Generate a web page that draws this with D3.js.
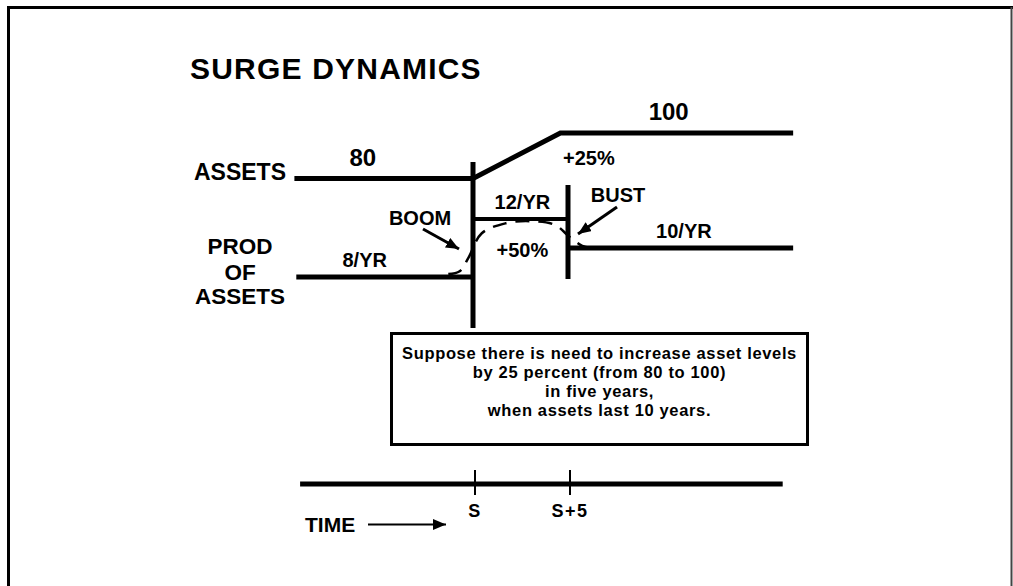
<!DOCTYPE html>
<html>
<head>
<meta charset="utf-8">
<script src="https://cdn.jsdelivr.net/npm/d3@7"></script>
<style>
  html, body { margin: 0; padding: 0; background: #fff; }
  svg { display: block; }
  text { font-family: "Liberation Sans", Arial, Helvetica, sans-serif; font-weight: bold; fill: #000; }
</style>
</head>
<body>
<div id="chart"></div>
<script>
// time is in years counted from S
var timeTicks = [0, 5];
var timeTickLabels = ["S", "S+5"];
var timeAxisExtent = [-9.1, 16.3];

// asset level path: 80 before S, ramps up to 100
var assetTimes = [-9.4, 0, 4.6, 16.85];
var assetValues = [80, 80, 100, 100];
var assetLabels = ["80", "100"];
var assetLabelTimes = [-5.8, 10.3];

// production of assets, step segments
var prodStart = [-9.3, 0, 5];
var prodEnd = [0, 5, 16.85];
var prodRate = [8, 12, 10];
var prodLabels = ["8/YR", "12/YR", "10/YR"];
var prodLabelTimes = [-5.7, 2.6, 11.1];

// smoothed boom/bust production (dashed)
var smoothTimes = [-1.3, -0.7, -0.25, 0.45, 1.7, 3.0, 4.3, 5.1, 5.75, 6.4];
var smoothValues = [8.2, 8.4, 9.3, 11.0, 11.7, 11.85, 11.6, 10.75, 10.15, 9.95];

var boxLines = [
  "Suppose there is need to increase asset levels",
  "by 25 percent (from 80 to 100)",
  "in five years,",
  "when assets last 10 years."
];

function drawChart() {
  var width = 1013,
      height = 586;

  var svg = d3.select("#chart")
    .append("svg")
      .attr("width", width)
      .attr("height", height);

  var defs = svg.append("defs");
  defs.append("marker")
      .attr("id", "head")
      .attr("markerUnits", "userSpaceOnUse")
      .attr("viewBox", "0 0 12 10")
      .attr("refX", 12)
      .attr("refY", 5)
      .attr("markerWidth", 13)
      .attr("markerHeight", 11)
      .attr("orient", "auto")
    .append("path")
      .attr("d", "M0,0L12,5L0,10Z")
      .attr("fill", "#000");

  // frame (no bottom edge)
  svg.append("path")
      .attr("d", "M8.5," + height + "V7.5H" + width)
      .attr("fill", "none")
      .attr("stroke", "#000")
      .attr("stroke-width", 3);
  svg.append("line")
      .attr("x1", 1011.5).attr("x2", 1011.5)
      .attr("y1", 7).attr("y2", height)
      .attr("stroke", "#444")
      .attr("stroke-width", 2);

  var x = d3.scaleLinear().domain([0, 5]).range([473, 568]);
  var yAsset = d3.scaleLinear().domain([80, 100]).range([178.5, 133]);
  var yProd = d3.scaleLinear().domain([8, 12]).range([277, 219]);

  svg.append("text")
      .attr("x", 190)
      .attr("y", 79)
      .attr("font-size", 30)
      .attr("letter-spacing", 1.2)
      .text("SURGE DYNAMICS");

  // asset level
  var assetLine = d3.line()
      .x(function(d) { return x(d[0]); })
      .y(function(d) { return yAsset(d[1]); });
  svg.append("path")
      .datum(d3.zip(assetTimes, assetValues))
      .attr("d", assetLine)
      .attr("fill", "none")
      .attr("stroke", "#000")
      .attr("stroke-width", 5);

  svg.selectAll(".asset-label")
    .data(assetLabels)
    .enter()
    .append("text")
      .attr("class", "asset-label")
      .attr("x", function(d, i) { return x(assetLabelTimes[i]); })
      .attr("y", function(d) { return yAsset(+d) - 13; })
      .attr("text-anchor", "middle")
      .attr("font-size", 24)
      .text(function(d) { return d; });

  svg.append("text")
      .attr("x", x(6.1))
      .attr("y", 165)
      .attr("text-anchor", "middle")
      .attr("font-size", 20)
      .text("+25%");

  svg.append("text")
      .attr("x", 286)
      .attr("y", 180)
      .attr("text-anchor", "end")
      .attr("font-size", 23)
      .text("ASSETS");

  // production steps
  svg.selectAll(".prod")
    .data(prodRate)
    .enter()
    .append("line")
      .attr("class", "prod")
      .attr("x1", function(d, i) { return x(prodStart[i]); })
      .attr("x2", function(d, i) { return x(prodEnd[i]); })
      .attr("y1", function(d) { return yProd(d); })
      .attr("y2", function(d) { return yProd(d); })
      .attr("stroke", "#000")
      .attr("stroke-width", function(d, i) { return i === 1 ? 4 : 5; });

  svg.selectAll(".prod-label")
    .data(prodLabels)
    .enter()
    .append("text")
      .attr("class", "prod-label")
      .attr("x", function(d, i) { return x(prodLabelTimes[i]); })
      .attr("y", function(d, i) { return yProd(prodRate[i]) - 10; })
      .attr("text-anchor", "middle")
      .attr("font-size", 20)
      .text(function(d) { return d; });

  var prodName = ["PROD", "OF", "ASSETS"];
  svg.selectAll(".prod-name")
    .data(prodName)
    .enter()
    .append("text")
      .attr("class", "prod-name")
      .attr("x", 240)
      .attr("y", function(d, i) { return [254, 280, 304][i]; })
      .attr("text-anchor", "middle")
      .attr("font-size", 22.5)
      .text(function(d) { return d; });

  // smoothed production (dashed)
  var smoothLine = d3.line()
      .curve(d3.curveCatmullRom)
      .x(function(d) { return x(d[0]); })
      .y(function(d) { return yProd(d[1]); });
  svg.append("path")
      .datum(d3.zip(smoothTimes, smoothValues))
      .attr("d", smoothLine)
      .attr("fill", "none")
      .attr("stroke", "#000")
      .attr("stroke-width", 2.5)
      .attr("stroke-dasharray", "14,9");

  svg.append("text")
      .attr("x", x(2.6))
      .attr("y", 257)
      .attr("text-anchor", "middle")
      .attr("font-size", 20)
      .text("+50%");

  // vertical markers at S and S+5
  svg.append("line")
      .attr("x1", x(0)).attr("x2", x(0))
      .attr("y1", 162).attr("y2", 328)
      .attr("stroke", "#000").attr("stroke-width", 5);
  svg.append("line")
      .attr("x1", x(5)).attr("x2", x(5))
      .attr("y1", 185).attr("y2", 279)
      .attr("stroke", "#000").attr("stroke-width", 5);

  // BOOM / BUST callouts
  svg.append("text")
      .attr("x", 420).attr("y", 225)
      .attr("text-anchor", "middle")
      .attr("font-size", 20)
      .text("BOOM");
  svg.append("line")
      .attr("x1", 423).attr("y1", 229)
      .attr("x2", 459).attr("y2", 249)
      .attr("stroke", "#000").attr("stroke-width", 3)
      .attr("marker-end", "url(#head)");

  svg.append("text")
      .attr("x", 618).attr("y", 202)
      .attr("text-anchor", "middle")
      .attr("font-size", 20)
      .text("BUST");
  svg.append("line")
      .attr("x1", 617).attr("y1", 207)
      .attr("x2", 578).attr("y2", 234)
      .attr("stroke", "#000").attr("stroke-width", 3)
      .attr("marker-end", "url(#head)");

  // note box
  svg.append("rect")
      .attr("x", 391.5).attr("y", 333.5)
      .attr("width", 416).attr("height", 111)
      .attr("fill", "none")
      .attr("stroke", "#000")
      .attr("stroke-width", 3);
  svg.selectAll(".box-line")
    .data(boxLines)
    .enter()
    .append("text")
      .attr("class", "box-line")
      .attr("x", 599.5)
      .attr("y", function(d, i) { return 359 + i * 19; })
      .attr("text-anchor", "middle")
      .attr("font-size", 16.5)
      .attr("letter-spacing", 0.65)
      .text(function(d) { return d; });

  // time axis
  var axisY = 484;
  svg.append("line")
      .attr("x1", x(timeAxisExtent[0])).attr("x2", x(timeAxisExtent[1]))
      .attr("y1", axisY).attr("y2", axisY)
      .attr("stroke", "#000").attr("stroke-width", 5);
  svg.selectAll(".tick")
    .data(timeTicks)
    .enter()
    .append("line")
      .attr("class", "tick")
      .attr("x1", function(d) { return x(d) + 2; })
      .attr("x2", function(d) { return x(d) + 2; })
      .attr("y1", 470).attr("y2", 495)
      .attr("stroke", "#000").attr("stroke-width", 2);
  svg.selectAll(".tick-label")
    .data(timeTickLabels)
    .enter()
    .append("text")
      .attr("class", "tick-label")
      .attr("x", function(d, i) { return x(timeTicks[i]) + 2; })
      .attr("y", 517)
      .attr("text-anchor", "middle")
      .attr("font-size", 18)
      .attr("letter-spacing", 1.5)
      .text(function(d) { return d; });

  svg.append("text")
      .attr("x", 305).attr("y", 532)
      .attr("font-size", 21)
      .text("TIME");
  svg.append("line")
      .attr("x1", 368).attr("y1", 524.5)
      .attr("x2", 446).attr("y2", 524.5)
      .attr("stroke", "#000").attr("stroke-width", 2)
      .attr("marker-end", "url(#head)");
}

drawChart();
</script>
</body>
</html>
